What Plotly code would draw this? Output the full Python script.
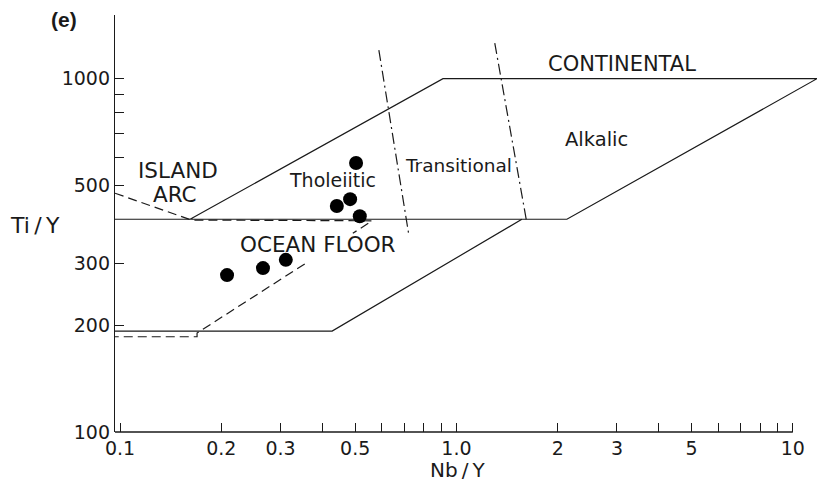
import math
import plotly.graph_objects as go

# ---- sample points (Nb/Y, Ti/Y) ----
nb_y = [0.503, 0.483, 0.441, 0.516, 0.208, 0.266, 0.311]
ti_y = [577, 456, 436, 408, 278, 291, 307]

# ---- field boundaries (solid) ----
cont_x = [0.0966, 2.13, 11.8, 0.912, 0.1615]
cont_y = [400, 400, 1000, 1000, 400]
ocean_lo_x = [0.0966, 0.427, 1.565]
ocean_lo_y = [193, 193, 400]

# ---- island arc / ocean floor boundaries (dashed) ----
arc_x = [0.0966, 0.163, 0.561, 0.492, None, 0.354, 0.1694, 0.1694, 0.0966]
arc_y = [474, 398, 396, 365, None, 299, 190.6, 186, 186]

# ---- tholeiitic / transitional / alkalic dividers (dash-dot) ----
div_x = [0.588, 0.722, None, 1.30, 1.62]
div_y = [1205, 361, None, 1261, 390]

# ---- axis ticks ----
x_ticks = [0.1, 0.2, 0.3, 0.4, 0.5, 0.6, 0.7, 0.8, 0.9, 1, 2, 3, 4, 5, 6, 7, 8, 9, 10]
x_labels = ["0.1", "0.2", "0.3", "", "0.5", "", "", "", "", "1.0", "2", "3", "", "5", "", "", "", "", "10"]
y_ticks = [100, 200, 300, 500, 600, 700, 800, 900, 1000, 1510]
y_labels = ["100", "200", "300", "500", "", "", "", "", "1000", ""]

X_MIN, X_MAX, X_AXIS_END = 0.0966, 11.8, 10
Y_MIN, Y_MAX = 100, 1514

FONT = "DejaVu Sans"
INK = "#1a1a1a"

fig = go.Figure()
line_style = dict(color=INK, width=1.2)
fig.add_trace(go.Scatter(x=cont_x, y=cont_y, mode="lines", line=line_style, hoverinfo="skip"))
fig.add_trace(go.Scatter(x=ocean_lo_x, y=ocean_lo_y, mode="lines", line=line_style, hoverinfo="skip"))
fig.add_trace(go.Scatter(x=arc_x, y=arc_y, mode="lines",
                         line=dict(color=INK, width=1.2, dash="9px,5px"), hoverinfo="skip"))
fig.add_trace(go.Scatter(x=div_x, y=div_y, mode="lines",
                         line=dict(color=INK, width=1.2, dash="11px,4px,2px,4px"), hoverinfo="skip"))
fig.add_trace(go.Scatter(x=nb_y, y=ti_y, mode="markers",
                         marker=dict(color="#000000", size=14, line=dict(width=0)), hoverinfo="skip"))

lx0, lx1 = math.log10(X_MIN), math.log10(X_MAX)
axis_frac = (math.log10(X_AXIS_END) - lx0) / (lx1 - lx0)

fig.add_shape(type="line", xref="paper", yref="paper", x0=0, x1=axis_frac, y0=0, y1=0,
              line=dict(color=INK, width=1.4))

W, H = 835, 481
L, R, T, B = 115, 18, 15, 49
pw, ph = W - L - R, H - T - B


def px(xp, yp):
    return (xp - L) / pw, (H - B - yp) / ph


def label(text, xp, yp, size=20, bold=False, family=FONT):
    x, y = px(xp, yp)
    fig.add_annotation(x=x, y=y, xref="paper", yref="paper", text=("<b>%s</b>" % text) if bold else text,
                       showarrow=False, xanchor="center", yanchor="middle",
                       font=dict(family=family, size=size, color=INK))


label("CONTINENTAL", 622, 64, 21)
label("Alkalic", 596, 139, 19.5)
label("Transitional", 458, 165, 18.5)
label("Tholeiitic", 332, 180, 19)
label("ISLAND", 178, 170, 21.5)
label("ARC", 175, 194, 21.5)
label("OCEAN FLOOR", 318, 244, 21.5)
label("(e)", 64, 19, 21, bold=True, family="Liberation Sans")
label("Ti\u2009/\u2009Y", 35, 226, 22)
label("Nb\u2009/\u2009Y", 457, 470, 20)

fig.update_layout(
    width=W, height=H, autosize=False,
    margin=dict(l=L, r=R, t=T, b=B, pad=0),
    paper_bgcolor="white", plot_bgcolor="white",
    showlegend=False,
    font=dict(family=FONT, size=19, color=INK),
    xaxis=dict(type="log", range=[lx0, lx1], showgrid=False, zeroline=False, showline=False,
               tickmode="array", tickvals=x_ticks, ticktext=x_labels,
               ticks="inside", ticklen=9, tickwidth=1.2, tickcolor=INK, ticklabelstandoff=3,
               tickfont=dict(family=FONT, size=19, color=INK)),
    yaxis=dict(type="log", range=[math.log10(Y_MIN), math.log10(Y_MAX)], showgrid=False, zeroline=False,
               showline=True, linecolor=INK, linewidth=1.4,
               tickmode="array", tickvals=y_ticks, ticktext=y_labels,
               ticks="inside", ticklen=9, tickwidth=1.2, tickcolor=INK,
               tickfont=dict(family=FONT, size=19, color=INK)),
)

fig.write_html("out.html")
